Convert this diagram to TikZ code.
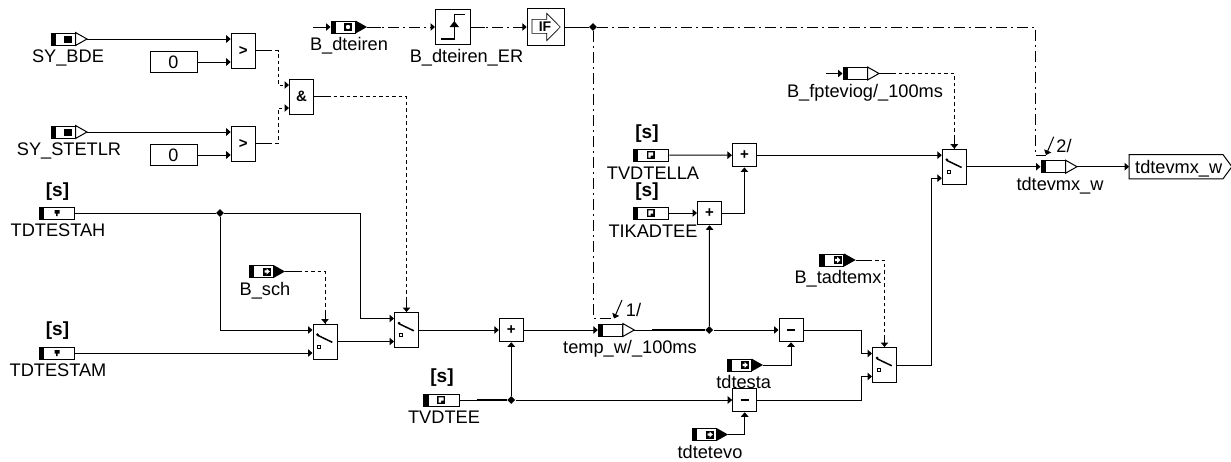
\documentclass[tikz,border=0pt]{standalone}
\usepackage{fontspec}
\setmainfont{Liberation Sans}
\usetikzlibrary{arrows.meta, positioning, shapes.geometric}

\begin{document}
\begin{tikzpicture}[
        x=1pt, y=-1pt,
        wire/.style={line width=1pt, -{Triangle[length=4.5pt,width=7.5pt]}},
        plainwire/.style={line width=1pt},
        dashlink/.style={wire, dash pattern=on 3.5pt off 3pt},
        dotlink/.style={wire, dash pattern=on 11pt off 4pt on 2pt off 4pt},
        block/.style={rectangle, draw, line width=1pt, inner sep=0pt, minimum width=24pt, minimum height=23.5pt, font=\fontsize{15}{15}\selectfont\bfseries},
        tallblock/.style={block, minimum height=35pt},
        port/.style={rectangle, draw, line width=1pt, inner sep=0pt, minimum width=24pt, minimum height=12pt,
            path picture={\fill (path picture bounding box.north west) rectangle ([xshift=5pt]path picture bounding box.south west);}},
        longport/.style={port, minimum width=35.5pt},
        const/.style={rectangle, draw, line width=1pt, inner sep=0pt, minimum width=47pt, minimum height=21pt, font=\fontsize{18}{18}\selectfont},
        lbl/.style={inner sep=0pt, text height=13pt, text depth=0pt, font=\fontsize{18.2}{18.2}\selectfont},
        calmark/.style={inner sep=0pt, font=\fontsize{19}{19}\selectfont\bfseries},
        junc/.style={diamond, fill, inner sep=0pt, minimum size=8pt}
    ]

    \useasboundingbox (0,0) rectangle (1231,461);

    % input ports
    \node[port] (sybde) at (63,39) {};
    \node[port] (systetlr) at (63,132) {};
    \node[port] (dteiren) at (343,27) {};
    \node[port] (bsch) at (261,271.5) {};
    \node[port] (temp) at (610.3,330) {};
    \node[port] (fpte) at (855,73.5) {};
    \node[port] (tadtemx) at (831.7,260) {};
    \node[port] (tdtesta) at (739,365) {};
    \node[port] (tdtetevo) at (704,434.5) {};
    \node[port] (tdtevmx) at (1053,166.7) {};
    \node[longport] (tdtestah) at (57,213) {};
    \node[longport] (tdtestam) at (57,353) {};
    \node[longport] (tvdtella) at (651,155) {};
    \node[longport] (tikadtee) at (651,213) {};
    \node[longport] (tvdtee) at (441.3,400) {};

    \foreach \n in {sybde, systetlr, temp, fpte, tdtevmx} {
        \draw[fill=white, line width=1pt] (\n.north east) -- ([xshift=11.5pt]\n.east) -- (\n.south east) -- cycle;
        \coordinate (\n-tip) at ([xshift=11.5pt]\n.east);
    }
    \foreach \n in {dteiren, bsch, tadtemx, tdtesta, tdtetevo} {
        \fill (\n.north east) -- ([xshift=11.5pt]\n.east) -- (\n.south east) -- cycle;
        \coordinate (\n-tip) at ([xshift=11.5pt]\n.east);
    }

    % marks inside the ports
    \foreach \n in {sybde, systetlr} {
        \fill ([shift={(1,-3.5)}]\n.center) rectangle ([shift={(9,3.5)}]\n.center);
    }
    \foreach \n in {bsch, tadtemx, tdtesta, tdtetevo} {
        \fill ([shift={(2,-4)}]\n.center) rectangle ([shift={(10,4)}]\n.center);
        \fill[white] ([shift={(3.5,-1.2)}]\n.center) -- ([shift={(5.5,-1.2)}]\n.center) -- ([shift={(5.5,-3)}]\n.center)
            -- ([shift={(8.8,0)}]\n.center) -- ([shift={(5.5,3)}]\n.center) -- ([shift={(5.5,1.2)}]\n.center) -- ([shift={(3.5,1.2)}]\n.center) -- cycle;
    }
    \fill ([shift={(1,-4)}]dteiren.center) rectangle ([shift={(9,4)}]dteiren.center);
    \fill[white] ([shift={(5,0)}]dteiren.center) circle (2.2);
    \foreach \n in {tdtestah, tdtestam} {
        \fill ([shift={(-2.5,-3)}]\n.center) -- ([shift={(2.5,-3)}]\n.center) -- ([shift={(2.5,0.5)}]\n.center)
            -- ([shift={(0.5,0.5)}]\n.center) -- ([shift={(0.5,3)}]\n.center) -- ([shift={(-1,3)}]\n.center) -- ([shift={(-1,0.5)}]\n.center) -- ([shift={(-2.5,0.5)}]\n.center) -- cycle;
    }
    \foreach \n in {tvdtella, tikadtee, tvdtee} {
        \fill ([shift={(-4,-4)}]\n.center) rectangle ([shift={(4,4)}]\n.center);
        \fill[white] ([shift={(-2.6,-2.6)}]\n.center) -- ([shift={(2.2,-2.6)}]\n.center) -- ([shift={(2.2,0.5)}]\n.center)
            -- ([shift={(-0.3,0.5)}]\n.center) -- ([shift={(-0.3,2.6)}]\n.center) -- ([shift={(-2.6,2.6)}]\n.center) -- cycle;
    }

    % blocks
    \node[const] (zeroa) at (173.5,62) {0};
    \node[const] (zerob) at (173.5,155) {0};
    \node[tallblock] (gta) at (243.2,50.5) {>};
    \node[tallblock] (gtb) at (243.2,143.5) {>};
    \node[tallblock] (anda) at (301.5,96.5) {\&};
    \node[tallblock] (swa) at (325,341.5) {};
    \node[tallblock] (swb) at (406.5,330) {};
    \node[tallblock] (swc) at (884.5,365) {};
    \node[tallblock] (swd) at (954.3,166.7) {};
    \node[block] (plusa) at (511.3,330) {+};
    \node[block] (plusb) at (709.5,213) {+};
    \node[block] (plusc) at (744.4,155.2) {+};
    \node[block] (minusa) at (791,330) {\raisebox{0.5pt}{\rule{8pt}{2pt}}};
    \node[block] (minusb) at (744.7,400) {\raisebox{0.5pt}{\rule{8pt}{2pt}}};
    \node[block, minimum width=35pt, minimum height=35.5pt] (er) at (453,27) {};
    \node[block, minimum width=37.5pt, minimum height=37.5pt] (iff) at (546,27) {};

    \foreach \n in {swa, swb, swc, swd} {
        \draw[line width=1.5pt] ([shift={(-7.3,-6.2)}]\n.center) -- ([shift={(7.3,0.8)}]\n.center);
        \fill ([shift={(-7.5,-7)}]\n.center) circle (1.5);
        \draw[line width=0.7pt] ([shift={(-7.2,3.6)}]\n.center) rectangle ([shift={(-4.2,6.6)}]\n.center);
    }
    \foreach \n in {gta, gtb, anda, swa, swb, swc, swd} {
        \coordinate (\n-a) at ([yshift=11.5pt]\n.west);
        \coordinate (\n-b) at ([yshift=-11.5pt]\n.west);
    }

    \draw[line width=1.6pt] ([shift={(-12.3,11.7)}]er.center) -- ([shift={(1.3,11.7)}]er.center) -- ([shift={(1.3,-12.7)}]er.center) -- ([shift={(12,-12.7)}]er.center);
    \fill ([shift={(1.3,-6)}]er.center) -- ([shift={(6,0)}]er.center) -- ([shift={(-3.4,0)}]er.center) -- cycle;

    \draw[line width=0.6pt] ([shift={(-14,-7.7)}]iff.center) -- ([shift={(0.7,-7.7)}]iff.center) -- ([shift={(0.7,-13.7)}]iff.center)
        -- ([shift={(14.3,0)}]iff.center) -- ([shift={(0.7,13.7)}]iff.center) -- ([shift={(0.7,6.3)}]iff.center) -- ([shift={(-14,6.3)}]iff.center) -- cycle;
    \node[inner sep=0pt, font=\fontsize{14}{14}\selectfont\bfseries] (iftext) at ([xshift=-1pt]iff.center) {IF};

    % output block
    \node[inner sep=0pt, minimum width=93.4pt, minimum height=24pt] (outw) at (1176,166.7) {};
    \draw[line width=1pt] (outw.north west) -- (outw.north east) -- ([xshift=9pt]outw.east) -- (outw.south east) -- (outw.south west) -- cycle;
    \node[lbl] (outtext) at (1178.7,166.7) {tdtevmx\_w};

    % junctions and bends
    \node[junc] (jtest) at (220,213) {};
    \node[junc] (jout) at (593,27) {};
    \node[junc] (jtemp) at (709.3,330) {};
    \node[junc] (jtvd) at (511.3,400) {};
    \coordinate (bendand) at (278,97);
    \coordinate (bendsw) at (360,300);
    \coordinate (bendc) at (861,365);
    \coordinate (bendd) at (931,300);
    \coordinate (bende) at (1035.7,155);
    \coordinate (marka) at (614,318.5);
    \coordinate (markb) at (1046,155);
    \coordinate (dteirenin) at (313,27);
    \coordinate (fptein) at (826,73.5);
    \coordinate (tempthick) at (652,330);
    \coordinate (tvdthick) at (477,400);

    % connectors
    \draw[wire] (sybde-tip) -- (gta-a);
    \draw[wire] (zeroa) -- (gta-b);
    \draw[wire] (systetlr-tip) -- (gtb-a);
    \draw[wire] (zerob) -- (gtb-b);
    \draw[dashlink] (gta.east) -- (bendand |- gta.east) |- (anda-a);
    \draw[dashlink] (gtb.east) -- (bendand |- gtb.east) |- (anda-b);
    \draw[dashlink] (anda.east) -| (swb.north);

    \draw[plainwire] (tdtestah.east) -- (jtest);
    \draw[wire] (jtest) -- (bendsw |- jtest) |- (swb-a);
    \draw[wire] (jtest) |- (swa-a);
    \draw[wire] (tdtestam.east) -- (swa-b);
    \draw[dashlink] (bsch-tip) -| (swa.north);
    \draw[wire] (swa.east) -- (swb-b);
    \draw[wire] (swb.east) -- (plusa.west);
    \draw[wire] (plusa.east) -- (temp.west);
    \draw[plainwire] (temp-tip) -- (jtemp);
    \draw[line width=1.8pt] (tempthick) -- (jtemp);
    \draw[wire] (jtemp) -- (plusb.south);
    \draw[wire] (jtemp) -- (minusa.west);
    \draw[plainwire] (tvdtee.east) -- (jtvd);
    \draw[line width=1.8pt] (tvdthick) -- (jtvd);
    \draw[wire] (jtvd) -- (plusa.south);
    \draw[wire] (jtvd) -- (minusb.west);
    \draw[wire] (tdtesta-tip) -| (minusa.south);
    \draw[wire] (tdtetevo-tip) -| (minusb.south);
    \draw[wire] (minusa.east) -- (bendc |- minusa.east) |- (swc-a);
    \draw[wire] (minusb.east) -- (bendc |- minusb.east) |- (swc-b);
    \draw[dashlink] (tadtemx-tip) -| (swc.north);
    \draw[wire] (swc.east) -- (bendd |- swc.east) |- (swd-b);

    \draw[wire] (tvdtella.east) -- (plusc.west);
    \draw[wire] (tikadtee.east) -- (plusb.west);
    \draw[wire] (plusb.east) -| (plusc.south);
    \draw[wire] (plusc.east) -- (swd-a);
    \draw[wire] (fptein) -- (fpte.west);
    \draw[dashlink] (fpte-tip) -| (swd.north);
    \draw[wire] (swd.east) -- (tdtevmx.west);
    \draw[wire] (tdtevmx-tip) -- (outw.west);

    \draw[wire] (dteirenin) -- (dteiren.west);
    \draw[dotlink] (dteiren-tip) -- (er.west);
    \draw[dotlink] (er.east) -- (iff.west);
    \draw[plainwire] (iff.east) -- (jout);
    \draw[dotlink, -] (jout) |- (marka);
    \draw[dotlink, -] (jout) -| (bende) -- (markb);

    % solid ends of the control lines
    \foreach \n in {gta.east, gtb.east, anda.east, bsch-tip, tadtemx-tip, fpte-tip, dteiren-tip, er.east} {
        \draw[plainwire] (\n) -- ++(14,0);
    }
    \foreach \n in {swa, swb, swc, swd} {
        \draw[plainwire] (\n.north) -- ++(0,-12);
    }

    % index marks
    \coordinate (marka-top) at (622,300);
    \coordinate (markb-top) at (1053.7,136.7);
    \draw[wire] (marka-top) -- (marka);
    \draw[wire] (markb-top) -- (markb);
    \node[lbl] (idxa) at (633.5,309.5) {1/};
    \node[lbl] (idxb) at (1064,146) {2/};

    % names
    \node[lbl] (lsybde) at (68,56) {SY\_BDE};
    \node[lbl] (lsystetlr) at (69,149) {SY\_STETLR};
    \node[lbl] (ldteiren) at (349,44) {B\_dteiren};
    \node[lbl] (ler) at (466.5,56) {B\_dteiren\_ER};
    \node[lbl] (ltdtestah) at (58,230) {TDTESTAH};
    \node[lbl] (ltdtestam) at (58,369.5) {TDTESTAM};
    \node[lbl] (lbsch) at (265,289) {B\_sch};
    \node[lbl] (ltvdtella) at (653,172.7) {TVDTELLA};
    \node[lbl] (ltikadtee) at (653,231) {TIKADTEE};
    \node[lbl] (ltvdtee) at (444,416.7) {TVDTEE};
    \node[lbl] (ltemp) at (630,346.7) {temp\_w/\_100ms};
    \node[lbl] (ltdtesta) at (743.7,381.7) {tdtesta};
    \node[lbl] (ltdtetevo) at (710,451.7) {tdtetevo};
    \node[lbl] (ltadtemx) at (838,277) {B\_tadtemx};
    \node[lbl] (lfpte) at (865,90.7) {B\_fpteviog/\_100ms};
    \node[lbl] (ltdtevmx) at (1060,184) {tdtevmx\_w};

    \node[calmark] (sa) at (57.5,191.5) {[s]};
    \node[calmark] (sb) at (57.5,331) {[s]};
    \node[calmark] (sc) at (647,133.5) {[s]};
    \node[calmark] (sd) at (647,191.5) {[s]};
    \node[calmark] (se) at (442,378) {[s]};
\end{tikzpicture}
\end{document}
